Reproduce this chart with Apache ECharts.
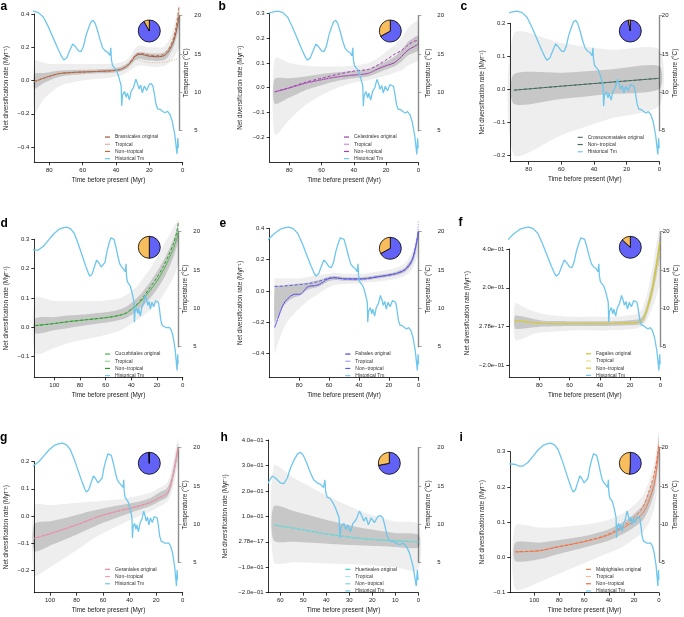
<!DOCTYPE html>
<html>
<head>
<meta charset="utf-8">
<script src="https://cdn.jsdelivr.net/npm/echarts@6/dist/echarts.min.js"></script>
<style>
  html, body { margin: 0; padding: 0; background: #fff; }
  #chart { width: 684px; height: 617px; }
</style>
</head>
<body>
<div id="chart"></div>
<script>
// ---- historical temperature (shared by all panels) ----
const tempAge = [120, 115, 112, 109, 105, 101, 97, 93, 90, 87, 84,
  81, 78, 75, 72, 70, 68.8, 67, 65.5, 63.5, 62,
  60, 58.5, 57, 55.5, 54, 52.5, 51.2, 50, 48.5, 47,
  45.5, 44, 42.5, 41.2, 40.6, 40.3, 39.6, 38.5, 37.3, 36,
  35, 34.4, 34.1, 33.6, 32.4, 31.4, 30.7, 29.5, 28.4, 27,
  25.6, 24.6, 23.7, 22.7, 21.7, 20.5, 19.1, 17.6, 16.4, 15.4,
  14.6, 13.5, 12.5, 11, 9.6, 8.1, 6.7, 5.2, 3.8, 2.3,
  1.6, 0.9, 0.4, 0.1];
const tempValue = [17.9, 17.8, 17.6, 17.6, 18.1, 18.9, 19.7, 20.3, 20.5, 20.6, 20.4,
  19.8, 18.5, 17.0, 15.5, 14.6, 14.2, 14.5, 15.3, 16.3, 16.0,
  15.4, 15.3, 16.0, 17.4, 18.4, 19.2, 19.4, 19.0, 18.0, 16.8,
  15.8, 15.4, 15.2, 14.8, 15.8, 14.3, 13.5, 13.4, 12.9, 12.1,
  11.3, 10.8, 8.2, 9.6, 10.1, 9.3, 9.9, 9.0, 10.1, 10.6,
  11.7, 11.1, 10.4, 10.9, 9.9, 10.8, 10.2, 11.0, 11.1, 10.8,
  9.9, 8.4, 7.8, 7.75, 7.5, 7.3, 7.5, 7.1, 6.2, 4.5,
  3.2, 1.9, 4.0, 2.7];

// ---- pies: share of tropical (orange) / non-tropical (blue) ----
const pieTropical    = [8, 33, 3, 50, 33, 13, 0.4, 28, 49];
const pieNonTropical = [92, 67, 97, 50, 67, 87, 99.6, 72, 51];

// ---- a: Brassicales ----
const aTime = [89, 84, 80, 75, 70, 60, 50, 42, 37, 33, 30, 28, 25, 21, 16, 12, 9, 6, 4, 2.1];
const aOriginal = [-0.007, 0.012, 0.025, 0.040, 0.046, 0.051, 0.055, 0.059, 0.067, 0.090, 0.125, 0.150, 0.158, 0.148, 0.143, 0.146, 0.168, 0.222, 0.290, 0.390];
const aTropical = [-0.007, 0.012, 0.025, 0.040, 0.046, 0.051, 0.055, 0.059, 0.066, 0.088, 0.115, 0.127, 0.118, 0.109, 0.107, 0.109, 0.114, 0.121, 0.128, 0.135];
const aNonTropical = [-0.007, 0.012, 0.025, 0.040, 0.046, 0.051, 0.055, 0.060, 0.068, 0.093, 0.132, 0.157, 0.163, 0.154, 0.148, 0.155, 0.180, 0.240, 0.320, 0.450];
const aCoreLow = [-0.05, -0.02, 0.0, 0.02, 0.03, 0.038, 0.043, 0.047, 0.055, 0.075, 0.105, 0.125, 0.13, 0.12, 0.118, 0.12, 0.14, 0.19, 0.25, 0.33];
const aCoreHigh = [0.04, 0.045, 0.05, 0.058, 0.062, 0.065, 0.068, 0.072, 0.082, 0.105, 0.14, 0.165, 0.172, 0.165, 0.162, 0.165, 0.19, 0.25, 0.33, 0.43];
const aHaloLow = [-0.2, -0.12, -0.08, -0.04, -0.02, 0.0, 0.01, 0.02, 0.03, 0.05, 0.07, 0.085, 0.09, 0.085, 0.08, 0.085, 0.1, 0.13, 0.16, 0.2];
const aHaloHigh = [0.12, 0.11, 0.1, 0.1, 0.1, 0.1, 0.1, 0.1, 0.11, 0.13, 0.17, 0.2, 0.21, 0.2, 0.2, 0.2, 0.23, 0.3, 0.38, 0.46];

// ---- b: Celastrales ----
const bTime = [89, 80, 70, 60, 50, 40, 31, 25, 19, 15, 10.5, 6.4, 3, 0.2];
const bOriginal = [-0.017, -0.001, 0.018, 0.032, 0.044, 0.051, 0.058, 0.076, 0.091, 0.100, 0.125, 0.152, 0.164, 0.175];
const bTropical = [-0.017, -0.001, 0.018, 0.032, 0.044, 0.051, 0.058, 0.078, 0.095, 0.112, 0.138, 0.172, 0.196, 0.205];
const bNonTropical = [-0.017, 0.0, 0.022, 0.038, 0.054, 0.067, 0.074, 0.092, 0.116, 0.134, 0.150, 0.172, 0.186, 0.192];
const bCoreLow = [-0.065, -0.04, -0.01, 0.01, 0.028, 0.038, 0.045, 0.06, 0.075, 0.085, 0.105, 0.13, 0.14, 0.15];
const bCoreHigh = [0.035, 0.038, 0.045, 0.055, 0.062, 0.068, 0.074, 0.092, 0.11, 0.125, 0.15, 0.185, 0.2, 0.21];
const bHaloLow = [-0.19, -0.13, -0.07, -0.03, 0.0, 0.02, 0.03, 0.04, 0.05, 0.06, 0.07, 0.09, 0.1, 0.11];
const bHaloHigh = [0.12, 0.1, 0.09, 0.085, 0.085, 0.09, 0.1, 0.12, 0.15, 0.17, 0.2, 0.24, 0.26, 0.27];

// ---- c: Crossosomatales ----
const cTime = [89, 60, 30, 0];
const cOriginal = [-0.003, 0.009, 0.021, 0.033];
const cNonTropical = [-0.003, 0.009, 0.021, 0.033];
const cCoreLow = [-0.045, -0.03, -0.015, 0.0];
const cCoreHigh = [0.045, 0.05, 0.06, 0.07];
const cHaloLow = [-0.2, -0.14, -0.09, -0.05];
const cHaloHigh = [0.17, 0.14, 0.12, 0.12];

// ---- d: Cucurbitales ----
const dTime = [114.8, 100, 90, 75, 64, 55, 48.5, 44, 40.8, 35.6, 30.5, 25.3, 20, 15, 11, 7.2, 4.6, 3.4];
const dOriginal = [0.006, 0.013, 0.019, 0.026, 0.031, 0.036, 0.042, 0.048, 0.058, 0.076, 0.099, 0.127, 0.158, 0.195, 0.230, 0.269, 0.303, 0.326];
const dTropical = [0.006, 0.013, 0.019, 0.026, 0.031, 0.036, 0.042, 0.048, 0.058, 0.080, 0.092, 0.120, 0.150, 0.190, 0.228, 0.270, 0.310, 0.335];
const dNonTropical = [0.006, 0.013, 0.019, 0.026, 0.031, 0.036, 0.042, 0.049, 0.060, 0.078, 0.105, 0.137, 0.170, 0.208, 0.245, 0.285, 0.325, 0.355];
const dCoreLow = [-0.02, -0.01, -0.003, 0.007, 0.014, 0.02, 0.026, 0.032, 0.04, 0.055, 0.075, 0.1, 0.13, 0.165, 0.2, 0.24, 0.275, 0.295];
const dCoreHigh = [0.03, 0.035, 0.04, 0.045, 0.05, 0.055, 0.062, 0.07, 0.08, 0.1, 0.125, 0.155, 0.19, 0.228, 0.262, 0.3, 0.335, 0.36];
const dHaloLow = [-0.09, -0.07, -0.055, -0.04, -0.03, -0.02, -0.01, 0.0, 0.01, 0.025, 0.04, 0.06, 0.08, 0.11, 0.14, 0.17, 0.2, 0.22];
const dHaloHigh = [0.1, 0.09, 0.09, 0.09, 0.09, 0.095, 0.1, 0.11, 0.12, 0.14, 0.17, 0.2, 0.24, 0.28, 0.31, 0.34, 0.36, 0.37];

// ---- e: Fabales ----
const eTime = [96.4, 94.2, 90.8, 87.5, 83, 79.7, 74, 67.4, 60.7, 56.2, 49.6, 38.4, 27.2, 16.1, 9.4, 4.9, 2.7, 0.9, 0.2];
const eOriginal = [-0.232, -0.174, -0.089, -0.047, -0.021, -0.021, 0.028, 0.038, 0.077, 0.085, 0.077, 0.077, 0.091, 0.109, 0.134, 0.187, 0.251, 0.336, 0.379];
const eTropical = [-0.232, -0.174, -0.089, -0.047, -0.021, -0.021, 0.028, 0.038, 0.077, 0.085, 0.077, 0.077, 0.091, 0.109, 0.130, 0.180, 0.230, 0.330, 0.450];
const eNonTropical = [0.028, 0.029, 0.031, 0.034, 0.038, 0.041, 0.047, 0.060, 0.081, 0.085, 0.077, 0.077, 0.091, 0.110, 0.136, 0.190, 0.255, 0.340, 0.383];
const eCoreLow = [-0.2, -0.16, -0.1, -0.065, -0.04, -0.03, 0.01, 0.025, 0.06, 0.07, 0.065, 0.066, 0.08, 0.097, 0.12, 0.165, 0.22, 0.3, 0.34];
const eCoreHigh = [0.035, 0.035, 0.037, 0.04, 0.045, 0.048, 0.055, 0.068, 0.09, 0.095, 0.088, 0.088, 0.102, 0.12, 0.148, 0.205, 0.27, 0.36, 0.4];
const eHaloLow = [-0.4, -0.33, -0.25, -0.19, -0.14, -0.11, -0.06, -0.02, 0.02, 0.04, 0.045, 0.05, 0.06, 0.075, 0.095, 0.13, 0.17, 0.22, 0.25];
const eHaloHigh = [0.08, 0.08, 0.08, 0.08, 0.08, 0.08, 0.09, 0.1, 0.11, 0.115, 0.11, 0.11, 0.125, 0.145, 0.175, 0.24, 0.3, 0.39, 0.43];

// ---- f: Fagales ----
const fTime = [96, 90, 84.4, 77.8, 68, 58, 46, 36, 28, 20.5, 15.5, 13.9, 12, 10.6, 9, 7.3, 5.5, 4, 2.8, 1.8, 0.2];
const fOriginal = [0.029, 0.025, 0.021, 0.016, 0.015, 0.015, 0.015, 0.015, 0.016, 0.019, 0.021, 0.024, 0.032, 0.05, 0.085, 0.127, 0.185, 0.248, 0.3, 0.351, 0.437];
const fTropical = [0.029, 0.025, 0.021, 0.016, 0.015, 0.015, 0.015, 0.015, 0.016, 0.019, 0.021, 0.024, 0.03, 0.045, 0.075, 0.11, 0.16, 0.21, 0.26, 0.31, 0.39];
const fNonTropical = [0.029, 0.025, 0.021, 0.016, 0.015, 0.015, 0.015, 0.015, 0.016, 0.019, 0.021, 0.024, 0.033, 0.052, 0.088, 0.132, 0.19, 0.255, 0.31, 0.36, 0.445];
const fCoreLow = [-0.01, -0.01, -0.005, 0.0, 0.002, 0.003, 0.003, 0.003, 0.004, 0.006, 0.008, 0.01, 0.015, 0.03, 0.06, 0.1, 0.15, 0.2, 0.25, 0.29, 0.36];
const fCoreHigh = [0.055, 0.05, 0.04, 0.03, 0.028, 0.027, 0.027, 0.027, 0.028, 0.032, 0.036, 0.04, 0.05, 0.07, 0.11, 0.16, 0.22, 0.29, 0.34, 0.39, 0.47];
const fHaloLow = [-0.07, -0.06, -0.04, -0.03, -0.025, -0.02, -0.02, -0.02, -0.018, -0.014, -0.01, -0.005, 0.0, 0.01, 0.03, 0.06, 0.09, 0.12, 0.15, 0.18, 0.22];
const fHaloHigh = [0.12, 0.1, 0.08, 0.065, 0.055, 0.05, 0.05, 0.05, 0.052, 0.058, 0.065, 0.075, 0.09, 0.12, 0.16, 0.22, 0.29, 0.36, 0.42, 0.46, 0.52];

// ---- g: Geraniales ----
const gTime = [111.8, 100, 87.4, 75, 62.3, 50, 37.2, 24.6, 17.1, 12.1, 10, 8, 6, 4.5, 3.4];
const gOriginal = [-0.083, -0.066, -0.046, -0.024, -0.001, 0.016, 0.031, 0.049, 0.068, 0.081, 0.1, 0.135, 0.18, 0.22, 0.25];
const gNonTropical = [-0.083, -0.066, -0.046, -0.024, -0.001, 0.016, 0.031, 0.049, 0.068, 0.081, 0.1, 0.135, 0.18, 0.22, 0.25];
const gCoreLow = [-0.13, -0.11, -0.085, -0.058, -0.03, -0.008, 0.015, 0.036, 0.055, 0.068, 0.085, 0.115, 0.16, 0.2, 0.23];
const gCoreHigh = [-0.03, -0.02, -0.006, 0.01, 0.025, 0.037, 0.048, 0.065, 0.088, 0.1, 0.12, 0.155, 0.205, 0.245, 0.27];
const gHaloLow = [-0.22, -0.19, -0.15, -0.11, -0.07, -0.04, -0.01, 0.015, 0.035, 0.05, 0.065, 0.09, 0.13, 0.17, 0.2];
const gHaloHigh = [0.04, 0.04, 0.045, 0.05, 0.055, 0.06, 0.07, 0.085, 0.105, 0.12, 0.14, 0.18, 0.23, 0.265, 0.29];

// ---- h: Huerteales ----
const hTime = [62.8, 53.8, 39.3, 24.8, 10.3, 0];
const hOriginal = [0.066, 0.053, 0.030, 0.013, 0.004, 0.0];
const hTropical = [0.066, 0.053, 0.030, 0.013, 0.004, 0.0];
const hNonTropical = [0.066, 0.053, 0.030, 0.013, 0.004, 0.0];
const hCoreLow = [0.005, 0.0, -0.008, -0.015, -0.02, -0.022];
const hCoreHigh = [0.14, 0.12, 0.085, 0.055, 0.035, 0.028];
const hHaloLow = [-0.08, -0.08, -0.085, -0.09, -0.1, -0.11];
const hHaloHigh = [0.3, 0.25, 0.18, 0.12, 0.08, 0.07];

// ---- i: Malpighiales ----
const iTime = [115.2, 96, 82.6, 69.3, 55.9, 42.5, 29.1, 21.1, 13.1, 7.8, 3.7, 1.1, 0.1];
const iOriginal = [0.016, 0.019, 0.029, 0.038, 0.048, 0.061, 0.083, 0.101, 0.125, 0.163, 0.21, 0.276, 0.314];
const iTropical = [0.016, 0.019, 0.029, 0.038, 0.048, 0.062, 0.086, 0.106, 0.135, 0.178, 0.23, 0.3, 0.335];
const iNonTropical = [0.016, 0.019, 0.029, 0.038, 0.049, 0.063, 0.088, 0.11, 0.142, 0.19, 0.24, 0.29, 0.322];
const iCoreLow = [-0.01, -0.005, 0.008, 0.02, 0.032, 0.045, 0.066, 0.083, 0.105, 0.14, 0.185, 0.25, 0.285];
const iCoreHigh = [0.042, 0.042, 0.048, 0.055, 0.064, 0.077, 0.1, 0.12, 0.148, 0.19, 0.24, 0.31, 0.345];
const iHaloLow = [-0.09, -0.07, -0.05, -0.03, -0.01, 0.01, 0.03, 0.05, 0.07, 0.1, 0.14, 0.2, 0.23];
const iHaloHigh = [0.09, 0.085, 0.085, 0.09, 0.095, 0.105, 0.125, 0.145, 0.175, 0.22, 0.27, 0.33, 0.36];

const sciLabelsF = { values: [-0.2, 0, 0.2, 0.4], text: ['\u22122.0e\u221201', '2.78e\u221217', '2.0e\u221201', '4.0e\u221201'] };
const sciLabelsH = { values: [-0.2, -0.1, 0, 0.1, 0.2, 0.3, 0.4],
  text: ['\u22122.0e\u221201', '\u22121.0e\u221201', '2.78e\u221217', '1.0e\u221201', '2.0e\u221201', '3.0e\u221201', '4.0e\u221201'] };

// ---- panel setup (layout in px, colours) ----
const panels = [
  { id: 'a', clade: 'Brassicales', time: aTime, original: aOriginal, tropical: aTropical, nonTropical: aNonTropical,
    band: [aHaloLow, aHaloHigh, aCoreLow, aCoreHigh], col: ['#9c5a3c', '#d8b49a', '#c8643a'],
    L: 34.3, x0: 182.7, ppm: 1.667, axisY: 162.3, yTicks: [-0.4, -0.2, 0, 0.2, 0.4], yTopPx: 14, yBotPx: 147,
    RA: 179.3, t20: 15.7, t5: 130.3, xTicks: [0, 20, 40, 60, 80], shift: 2.5, pieC: [149.3, 31], legend: [105, 134.2],
    nameGapL: 25.5, rLM: 15, rNG: 4, letter: [0.5, 12.5] },
  { id: 'b', clade: 'Celastrales', time: bTime, original: bOriginal, tropical: bTropical, nonTropical: bNonTropical,
    band: [bHaloLow, bHaloHigh, bCoreLow, bCoreHigh], col: ['#9a3fa8', '#d58ae0', '#a53db5'],
    L: 269.7, x0: 418.3, ppm: 1.6125, axisY: 162.3, yTicks: [-0.2, -0.1, 0, 0.1, 0.2, 0.3], yTopPx: 13.3, yBotPx: 137.3,
    RA: 418.3, t20: 15.7, t5: 130.7, xTicks: [0, 20, 40, 60, 80], shift: 0, pieC: [390.3, 31], legend: [344, 134.2],
    nameGapL: 26, rLM: 19, rNG: 6.5, letter: [218.5, 12.5] },
  { id: 'c', clade: 'Crossosomatales', time: cTime, original: cOriginal, tropical: null, nonTropical: cNonTropical,
    band: [cHaloLow, cHaloHigh, cCoreLow, cCoreHigh], col: ['#56766e', '#a0b8b0', '#3f6a60'],
    L: 510.3, x0: 659.3, ppm: 1.633, axisY: 161.7, yTicks: [-0.2, -0.1, 0, 0.1, 0.2], yTopPx: 23.3, yBotPx: 155,
    RA: 659.3, t20: 15.7, t5: 130.7, xTicks: [0, 20, 40, 60, 80], shift: 0, pieC: [630.3, 31], legend: [577.7, 134.5],
    nameGapL: 25.5, rLM: 2.5, rNG: 13, letter: [460.5, 13] },
  { id: 'd', clade: 'Cucurbitales', time: dTime, original: dOriginal, tropical: dTropical, nonTropical: dNonTropical,
    band: [dHaloLow, dHaloHigh, dCoreLow, dCoreHigh], col: ['#4daf4a', '#9ad29a', '#2a9a2a'],
    L: 34.3, x0: 182.7, ppm: 1.284, axisY: 377.3, yTicks: [-0.1, 0, 0.1, 0.2, 0.3], yTopPx: 239.3, yBotPx: 356.7,
    RA: 178.3, t20: 231.7, t5: 346.7, xTicks: [0, 20, 40, 60, 80, 100], shift: 3.5, pieC: [149.3, 247.3], legend: [105, 351.2],
    nameGapL: 25.5, rLM: 15, rNG: 4, letter: [0.5, 229.5] },
  { id: 'e', clade: 'Fabales', time: eTime, original: eOriginal, tropical: eTropical, nonTropical: eNonTropical,
    band: [eHaloLow, eHaloHigh, eCoreLow, eCoreHigh], col: ['#4b3fe0', '#a0a0ff', '#5b5bef'],
    L: 269.3, x0: 418.7, ppm: 1.494, axisY: 377.7, yTicks: [-0.4, -0.2, 0, 0.2, 0.4], yTopPx: 228.3, yBotPx: 353.7,
    RA: 418.7, t20: 231.7, t5: 346.7, xTicks: [0, 20, 40, 60, 80, 100], shift: 0, pieC: [390.3, 248.3], legend: [345.3, 351.2],
    nameGapL: 26, rLM: 19, rNG: 6.5, letter: [219.5, 229.5] },
  { id: 'f', clade: 'Fagales', time: fTime, original: fOriginal, tropical: fTropical, nonTropical: fNonTropical,
    band: [fHaloLow, fHaloHigh, fCoreLow, fCoreHigh], col: ['#cfc22a', '#e8e090', '#d8cb20'],
    L: 509.3, x0: 660.3, ppm: 1.513, axisY: 377.3, yTicks: [-0.2, 0, 0.2, 0.4], yTopPx: 249, yBotPx: 365.3,
    RA: 660.3, t20: 231.7, t5: 346.7, xTicks: [0, 20, 40, 60, 80], shift: 0, pieC: [630.3, 247.3], legend: [586, 350.9],
    nameGapL: 39, rLM: 2.5, rNG: 13, sci: sciLabelsF, letter: [458.5, 229] },
  { id: 'g', clade: 'Geraniales', time: gTime, original: gOriginal, tropical: null, nonTropical: gNonTropical,
    band: [gHaloLow, gHaloHigh, gCoreLow, gCoreHigh], col: ['#e8829a', '#f4b8c6', '#f0a0b4'],
    L: 34.3, x0: 182.7, ppm: 1.327, axisY: 592.7, yTicks: [-0.2, -0.1, 0, 0.1, 0.2], yTopPx: 461.7, yBotPx: 570,
    RA: 178.3, t20: 447.7, t5: 562.3, xTicks: [0, 20, 40, 60, 80, 100], shift: 3.8, pieC: [149.3, 463.3], legend: [105, 566.5],
    nameGapL: 25.5, rLM: 15, rNG: 4, letter: [0, 443.5] },
  { id: 'h', clade: 'Huerteales', time: hTime, original: hOriginal, tropical: hTropical, nonTropical: hNonTropical,
    band: [hHaloLow, hHaloHigh, hCoreLow, hCoreHigh], col: ['#4cc9c9', '#a8e6e6', '#7fdada'],
    L: 268.7, x0: 418.3, ppm: 2.3, axisY: 592.7, yTicks: [-0.2, -0.1, 0, 0.1, 0.2, 0.3, 0.4], yTopPx: 440, yBotPx: 592.7,
    RA: 418.3, t20: 447.7, t5: 562.3, xTicks: [0, 10, 20, 30, 40, 50, 60], shift: 0, pieC: [389.3, 463.3], legend: [345.3, 566.5],
    nameGapL: 40, rLM: 19, rNG: 6.5, sci: sciLabelsH, letter: [220.5, 443.5] },
  { id: 'i', clade: 'Malpighiales', time: iTime, original: iOriginal, tropical: iTropical, nonTropical: iNonTropical,
    band: [iHaloLow, iHaloHigh, iCoreLow, iCoreHigh], col: ['#ee7a4f', '#f8b89a', '#f26b3a'],
    L: 510.3, x0: 659, ppm: 1.247, axisY: 592.7, yTicks: [-0.1, 0, 0.1, 0.2, 0.3], yTopPx: 451.7, yBotPx: 592.7,
    RA: 659, t20: 447.7, t5: 562.3, xTicks: [0, 20, 40, 60, 80, 100], shift: 0, pieC: [630.3, 463.3], legend: [586, 566.5],
    nameGapL: 25.5, rLM: 2.5, rNG: 13, letter: [459.5, 443.5] }
];

const FONT = '"Liberation Sans", Arial, Helvetica, sans-serif';
const TEMP_COLOR = '#6fc6ec';
const PIE_ORANGE = '#f8be5e';
const PIE_BLUE = '#6262f6';
const MINUS = '\u2212';

const grids = [], xAxes = [], yAxes = [], series = [], legends = [], graphics = [];

function fmtDec(v) {
  const s = Math.abs(v).toFixed(1);
  return v < -1e-9 ? MINUS + s : s;
}

panels.forEach((p, k) => {
  const tL = (p.x0 - p.L) / p.ppm;
  const tR = (p.x0 - p.RA) / p.ppm;
  const yMax = p.yTicks[p.yTicks.length - 1];
  const pxPerUnit = (p.yBotPx - p.yTopPx) / (yMax - p.yTicks[0]);
  const yMin = p.yTicks[0] - (p.axisY - p.yBotPx) / pxPerUnit;
  const pxC = (p.t5 - p.t20) / 15;
  const clipTop = Math.min(p.yTopPx, p.t20) - 12;
  const tempMax = 20 + (p.t20 - clipTop) / pxC;
  const tempMin = 5 - (p.axisY - p.t5) / pxC;
  const gi = grids.length;

  // rate grid, temperature line grid (clipped at right axis), temperature axis grid
  grids.push({ left: p.L, top: p.yTopPx, width: p.x0 - p.L, height: p.axisY - p.yTopPx, outerBoundsMode: 'none' });
  grids.push({ left: p.L, top: clipTop, width: p.RA - p.L, height: p.axisY - clipTop, outerBoundsMode: 'none' });
  grids.push({ left: p.L, top: p.t20, width: p.RA - p.L, height: p.t5 - p.t20, outerBoundsMode: 'none' });

  const txt = { color: '#222', fontFamily: FONT, fontSize: 6 };
  const nameTxt = { color: '#222', fontFamily: FONT, fontSize: 6.4 };

  xAxes.push({
    type: 'value', gridIndex: gi, min: 0, max: tL, inverse: true,
    name: 'Time before present (Myr)', nameLocation: 'middle', nameGap: 15, nameMoveOverlap: false,
    nameTextStyle: nameTxt,
    axisLine: { show: true, onZero: false, lineStyle: { color: '#000', width: 0.8 } },
    axisTick: { show: true, length: 3, lineStyle: { color: '#000', width: 0.8 }, customValues: p.xTicks },
    axisLabel: Object.assign({ margin: 5, customValues: p.xTicks, formatter: v => String(v) }, txt),
    splitLine: { show: false }
  });
  xAxes.push({ type: 'value', gridIndex: gi + 1, min: tR, max: tL, inverse: true, show: false });
  xAxes.push({ type: 'value', gridIndex: gi + 2, min: 0, max: 1, show: false });

  const yFormatter = p.sci
    ? v => { const j = p.sci.values.findIndex(u => Math.abs(u - v) < 1e-9); return j < 0 ? '' : p.sci.text[j]; }
    : fmtDec;
  yAxes.push({
    type: 'value', gridIndex: gi, min: yMin, max: yMax, position: 'left',
    name: 'Net diversification rate (Myr\u207B\u00B9)', nameLocation: 'middle', nameGap: p.nameGapL, nameRotate: 90,
    nameMoveOverlap: false, nameTextStyle: nameTxt,
    axisLine: { show: true, onZero: false, lineStyle: { color: '#000', width: 0.8 } },
    axisTick: { show: true, length: 3, lineStyle: { color: '#000', width: 0.8 }, customValues: p.yTicks },
    axisLabel: Object.assign({ margin: 5, customValues: p.yTicks, formatter: yFormatter }, txt),
    splitLine: { show: false }
  });
  yAxes.push({ type: 'value', gridIndex: gi + 1, min: tempMin, max: tempMax, show: false });
  yAxes.push({
    type: 'value', gridIndex: gi + 2, min: 5, max: 20, position: 'right',
    name: 'Temperature (\u00B0C)', nameLocation: 'middle', nameGap: p.rNG, nameRotate: 90,
    nameMoveOverlap: false, nameTextStyle: nameTxt,
    axisLine: { show: true, onZero: false, lineStyle: { color: '#8c8c8c', width: 1.4 } },
    axisTick: { show: true, length: 3, lineStyle: { color: '#8c8c8c', width: 0.8 }, customValues: [5, 10, 15, 20] },
    axisLabel: Object.assign({ margin: p.rLM, customValues: [5, 10, 15, 20], formatter: v => String(v) }, txt),
    splitLine: { show: false }
  });

  // shaded posterior bands: halo (outer) and core (inner), drawn as polygons in axis coordinates
  const bands = [[p.band[0], p.band[1], 'rgba(0,0,0,0.065)'], [p.band[2], p.band[3], 'rgba(0,0,0,0.16)']];
  bands.forEach(([lo, hi, color], b) => {
    series.push({
      type: 'custom', xAxisIndex: gi, yAxisIndex: gi, silent: true, z: 1 + b, clip: false,
      data: p.time.map((t, i) => [t, lo[i], hi[i]]),
      encode: { x: 0, y: [1, 2] },
      renderItem: (params, api) => {
        if (params.dataIndex !== 0) return null;
        const upper = p.time.map((t, i) => api.coord([t, hi[i]]));
        const lower = p.time.map((t, i) => api.coord([t, lo[i]])).reverse();
        return { type: 'polygon', shape: { points: upper.concat(lower), smooth: 0.25 }, style: { fill: color } };
      }
    });
  });

  const names = [p.id + '|' + p.clade + ' original'];
  const lineCommon = { type: 'line', xAxisIndex: gi, yAxisIndex: gi, symbol: 'none', smooth: 0.3,
    clip: false, silent: true, z: 4 };
  series.push(Object.assign({ name: names[0], data: p.time.map((t, i) => [t, p.original[i]]),
    lineStyle: { color: p.col[0], width: 1 }, itemStyle: { color: p.col[0] } }, lineCommon));
  if (p.tropical) {
    names.push(p.id + '|Tropical');
    series.push(Object.assign({ name: p.id + '|Tropical', data: p.time.map((t, i) => [t, p.tropical[i]]),
      lineStyle: { color: p.col[1], width: 1, type: [1, 1.5] }, itemStyle: { color: p.col[1] } }, lineCommon));
  }
  names.push(p.id + '|Non' + MINUS + 'tropical');
  series.push(Object.assign({ name: p.id + '|Non' + MINUS + 'tropical', data: p.time.map((t, i) => [t, p.nonTropical[i]]),
    lineStyle: { color: p.col[2], width: 1, type: [3, 2] }, itemStyle: { color: p.col[2] } }, lineCommon));

  names.push(p.id + '|Historical Tm');
  series.push({
    name: p.id + '|Historical Tm', type: 'line', xAxisIndex: gi + 1, yAxisIndex: gi + 1,
    data: tempAge.map((t, i) => [t + p.shift, tempValue[i]]),
    symbol: 'none', clip: true, silent: true, z: 6,
    lineStyle: { color: TEMP_COLOR, width: 1.3 }, itemStyle: { color: TEMP_COLOR }
  });

  series.push({
    type: 'pie', center: p.pieC, radius: 11, startAngle: 90, clockwise: true, silent: true, z: 7,
    label: { show: false }, labelLine: { show: false }, emphasis: { disabled: true },
    itemStyle: { borderColor: '#000', borderWidth: 0.8 },
    data: [
      { value: pieNonTropical[k], itemStyle: { color: PIE_BLUE } },
      { value: pieTropical[k], itemStyle: { color: PIE_ORANGE } }
    ]
  });

  legends.push({
    left: p.legend[0], top: p.legend[1], orient: 'vertical', padding: 0, itemGap: 1.5,
    itemWidth: 5, itemHeight: 1.2, icon: 'rect', selectedMode: false,
    textStyle: { fontSize: 5, lineHeight: 5.7, color: '#333', fontFamily: FONT },
    formatter: n => n.split('|')[1],
    data: names
  });

  graphics.push({
    type: 'text', left: p.letter[0], top: p.letter[1] - 12,
    style: { text: p.id, font: 'bold 12px ' + FONT, fill: '#000' }
  });
});

const chart = echarts.init(document.getElementById('chart'), null, { renderer: 'canvas' });
chart.setOption({
  animation: false,
  backgroundColor: '#fff',
  grid: grids,
  xAxis: xAxes,
  yAxis: yAxes,
  legend: legends,
  series: series,
  graphic: graphics
});
</script>
</body>
</html>
